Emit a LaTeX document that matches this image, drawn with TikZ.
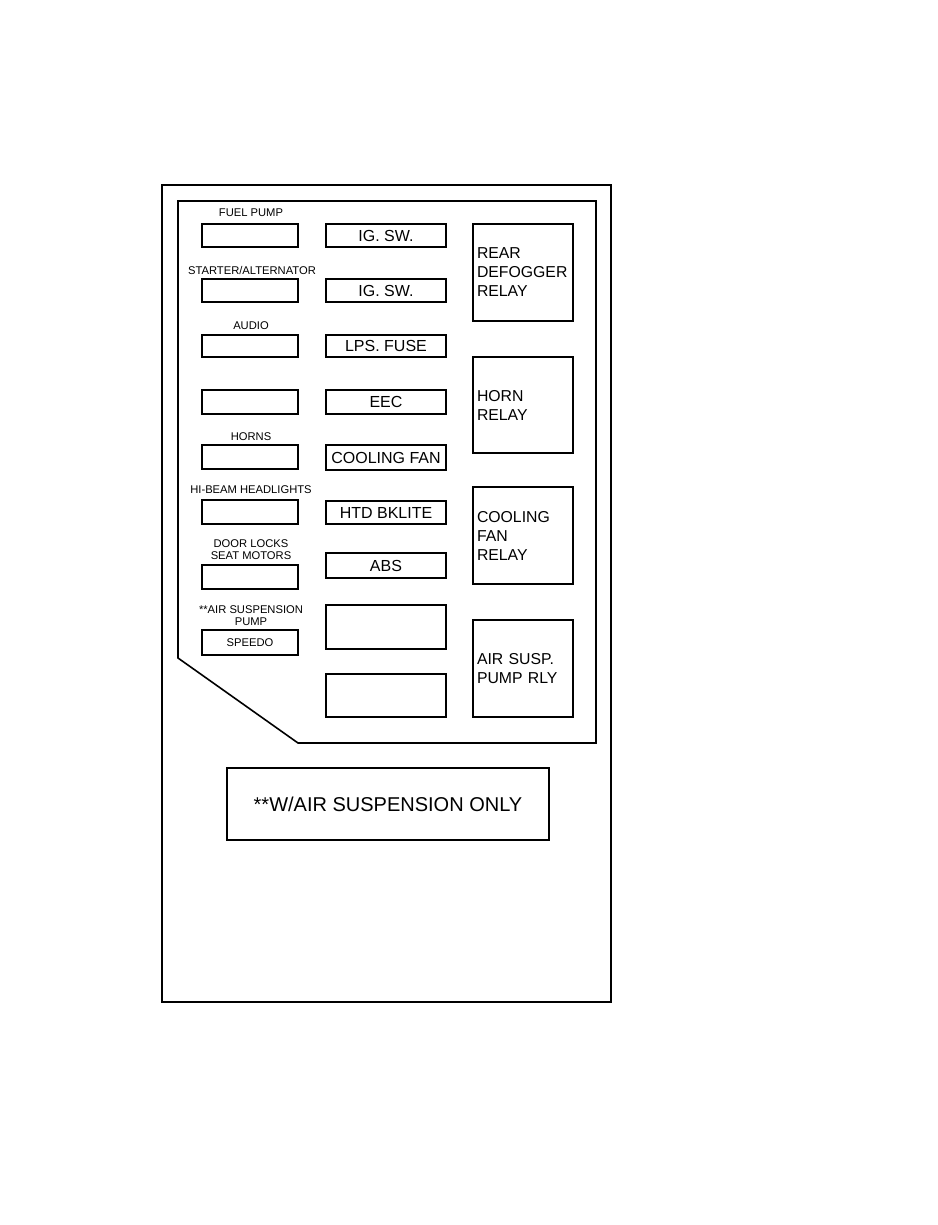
\documentclass[tikz,border=0pt]{standalone}
\usepackage{fontspec}
\setmainfont{Liberation Sans}
\begin{document}
\begin{tikzpicture}[x=1pt,y=-1pt,
  frame/.style={line width=1.6pt},
  fuse/.style={draw,line width=1.5pt,minimum width=96pt,inner sep=0pt},
  mid/.style={draw,line width=1.5pt,minimum width=120pt,inner sep=0pt,font=\fontsize{16}{19}\selectfont},
  relay/.style={draw,line width=1.5pt,minimum width=100pt,inner xsep=4pt,inner ysep=0pt,text width=92pt,align=left,font=\fontsize{15.8}{19}\selectfont},
  lbl/.style={inner sep=0pt,align=center,font=\fontsize{11.2}{12}\selectfont}]
\path[use as bounding box] (0,0) rectangle (937,1225);
% outer frame and panel
\draw[frame] (162,185) rectangle (611,1002);
\draw[frame] (178,201) -- (596,201) -- (596,743) -- (298,743) -- (178,658) -- cycle;
% left column
\node[fuse,minimum height=23pt] (f1) at (250,235.5) {};
\node[fuse,minimum height=23pt] (f2) at (250,290.5) {};
\node[fuse,minimum height=22pt] (f3) at (250,346) {};
\node[fuse,minimum height=24pt] (f4) at (250,402) {};
\node[fuse,minimum height=24pt] (f5) at (250,457) {};
\node[fuse,minimum height=24pt] (f6) at (250,512) {};
\node[fuse,minimum height=24pt] (f7) at (250,577) {};
\node[fuse,minimum height=25pt,font=\fontsize{11.2}{12}\selectfont] (f8) at (250,642.5) {SPEEDO};
\node[lbl] (l1) at (251,213) {FUEL PUMP};
\node[lbl] (l2) at (252,270) {STARTER/ALTERNATOR};
\node[lbl] (l3) at (251,326) {AUDIO};
\node[lbl] (l5) at (251,437) {HORNS};
\node[lbl] (l6) at (251,490) {HI-BEAM HEADLIGHTS};
\node[lbl] (l7) at (251,550) {DOOR LOCKS\\SEAT MOTORS};
\node[lbl] (l8) at (251,616) {**AIR SUSPENSION\\PUMP};
% middle column
\node[mid,minimum height=23pt] (m1) at (386,235.5) {IG. SW.};
\node[mid,minimum height=23pt] (m2) at (386,290.5) {IG. SW.};
\node[mid,minimum height=22pt] (m3) at (386,346) {LPS. FUSE};
\node[mid,minimum height=24pt] (m4) at (386,402) {EEC};
\node[mid,minimum height=25pt] (m5) at (386,457.5) {COOLING FAN};
\node[mid,minimum height=23pt] (m6) at (386,512.5) {HTD BKLITE};
\node[mid,minimum height=25pt] (m7) at (386,565.5) {ABS};
\node[mid,minimum height=44pt] (m8) at (386,627) {};
\node[mid,minimum height=43pt] (m9) at (386,695.5) {};
% right column relays
\node[relay,minimum height=97pt] (r1) at (523,272.5) {REAR\\DEFOGGER\\RELAY};
\node[relay,minimum height=96pt] (r2) at (523,405) {HORN\\RELAY};
\node[relay,minimum height=97pt] (r3) at (523,535.5) {COOLING\\FAN\\RELAY};
\node[relay,minimum height=97pt] (r4) at (523,668.5) {AIR SUSP.\\PUMP RLY};
% note box
\node[draw,line width=1.5pt,minimum width=322pt,minimum height=72pt,inner sep=0pt,font=\fontsize{20}{24}\selectfont] (note) at (388,804) {**W/AIR SUSPENSION ONLY};
\end{tikzpicture}
\end{document}
